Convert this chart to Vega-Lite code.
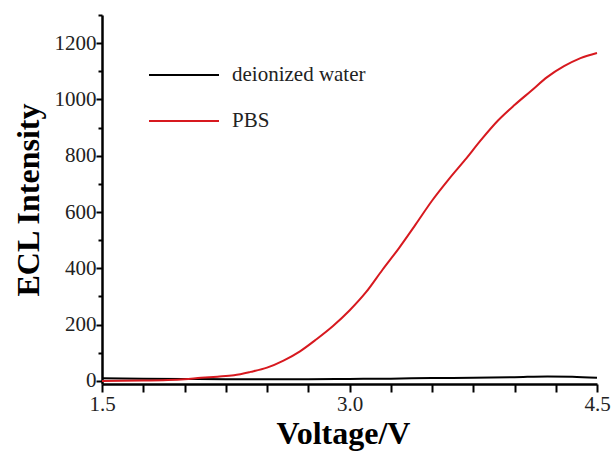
{
  "$schema": "https://vega.github.io/schema/vega-lite/v6.json",
  "width": 495,
  "height": 369,
  "autosize": {"type": "none"},
  "padding": {"left": 102, "top": 15, "right": 17, "bottom": 69},
  "background": "white",
  "config": {
    "view": {"stroke": null},
    "font": "Liberation Serif"
  },
  "data": {"values": [
    {"V": 1.5, "I": 9, "s": "deionized water"},
    {"V": 1.75, "I": 8, "s": "deionized water"},
    {"V": 2.0, "I": 7, "s": "deionized water"},
    {"V": 2.25, "I": 6, "s": "deionized water"},
    {"V": 2.5, "I": 6, "s": "deionized water"},
    {"V": 2.75, "I": 6, "s": "deionized water"},
    {"V": 3.0, "I": 7, "s": "deionized water"},
    {"V": 3.25, "I": 8, "s": "deionized water"},
    {"V": 3.5, "I": 10, "s": "deionized water"},
    {"V": 3.75, "I": 11, "s": "deionized water"},
    {"V": 4.0, "I": 13, "s": "deionized water"},
    {"V": 4.2, "I": 16, "s": "deionized water"},
    {"V": 4.35, "I": 15, "s": "deionized water"},
    {"V": 4.5, "I": 11, "s": "deionized water"},
    {"V": 1.5, "I": 0, "s": "PBS"},
    {"V": 1.75, "I": 1, "s": "PBS"},
    {"V": 1.9, "I": 3, "s": "PBS"},
    {"V": 2.0, "I": 6, "s": "PBS"},
    {"V": 2.1, "I": 11, "s": "PBS"},
    {"V": 2.2, "I": 15, "s": "PBS"},
    {"V": 2.3, "I": 20, "s": "PBS"},
    {"V": 2.4, "I": 32, "s": "PBS"},
    {"V": 2.5, "I": 47, "s": "PBS"},
    {"V": 2.6, "I": 72, "s": "PBS"},
    {"V": 2.7, "I": 105, "s": "PBS"},
    {"V": 2.8, "I": 148, "s": "PBS"},
    {"V": 2.9, "I": 195, "s": "PBS"},
    {"V": 3.0, "I": 250, "s": "PBS"},
    {"V": 3.1, "I": 315, "s": "PBS"},
    {"V": 3.2, "I": 395, "s": "PBS"},
    {"V": 3.3, "I": 472, "s": "PBS"},
    {"V": 3.4, "I": 555, "s": "PBS"},
    {"V": 3.5, "I": 640, "s": "PBS"},
    {"V": 3.6, "I": 715, "s": "PBS"},
    {"V": 3.7, "I": 785, "s": "PBS"},
    {"V": 3.8, "I": 858, "s": "PBS"},
    {"V": 3.9, "I": 925, "s": "PBS"},
    {"V": 4.0, "I": 980, "s": "PBS"},
    {"V": 4.1, "I": 1030, "s": "PBS"},
    {"V": 4.2, "I": 1080, "s": "PBS"},
    {"V": 4.3, "I": 1118, "s": "PBS"},
    {"V": 4.4, "I": 1147, "s": "PBS"},
    {"V": 4.5, "I": 1165, "s": "PBS"}
  ]},
  "mark": {"type": "line", "strokeWidth": 2, "interpolate": "monotone"},
  "encoding": {
    "x": {
      "field": "V", "type": "quantitative",
      "scale": {"domain": [1.5, 4.5], "nice": false, "zero": false},
      "axis": {
        "title": "Voltage/V",
        "titleX": 241,
        "values": [1.5, 1.75, 2.0, 2.25, 2.5, 2.75, 3.0, 3.25, 3.5, 3.75, 4.0, 4.25, 4.5],
        "labelExpr": "(datum.value == 1.5 || datum.value == 3 || datum.value == 4.5) ? format(datum.value, '.1f') : ''",
        "grid": false,
        "domainColor": "#000", "domainWidth": 2.5,
        "tickColor": "#000", "tickWidth": 2, "tickSize": 8,
        "labelFont": "Liberation Serif", "labelFontSize": 21, "labelColor": "#222",
        "labelPadding": 1, "labelFlush": false, "labelOverlap": false,
        "titleFont": "Liberation Serif", "titleFontSize": 32, "titleFontWeight": "bold", "titleColor": "#000",
        "titlePadding": 4
      }
    },
    "y": {
      "field": "I", "type": "quantitative",
      "scale": {"domain": [-11, 1300], "nice": false, "zero": false},
      "axis": {
        "title": "ECL Intensity",
        "values": [0, 100, 200, 300, 400, 500, 600, 700, 800, 900, 1000, 1100, 1200, 1300],
        "labelExpr": "datum.value % 200 == 0 && datum.value <= 1200 ? datum.value : ''",
        "grid": false,
        "domainColor": "#000", "domainWidth": 2.5,
        "tickColor": "#000", "tickWidth": 2,
        "tickSize": {"condition": {"test": "datum.value % 200 == 0", "value": 6}, "value": 4},
        "labelFont": "Liberation Serif", "labelFontSize": 21, "labelColor": "#222",
        "labelPadding": 0, "labelFlush": false, "labelOverlap": false,
        "titleFont": "Liberation Serif", "titleFontSize": 32, "titleFontWeight": "bold", "titleColor": "#000",
        "titlePadding": 9
      }
    },
    "color": {
      "field": "s", "type": "nominal",
      "scale": {"domain": ["deionized water", "PBS"], "range": ["#000000", "#d7191f"]},
      "legend": {
        "title": null,
        "orient": "none", "legendX": 46, "legendY": 24,
        "symbolType": "stroke", "symbolSize": 4900, "symbolStrokeWidth": 2,
        "labelFont": "Liberation Serif", "labelFontSize": 21, "labelColor": "#222",
        "labelOffset": 12, "rowPadding": 0
      }
    }
  }
}
